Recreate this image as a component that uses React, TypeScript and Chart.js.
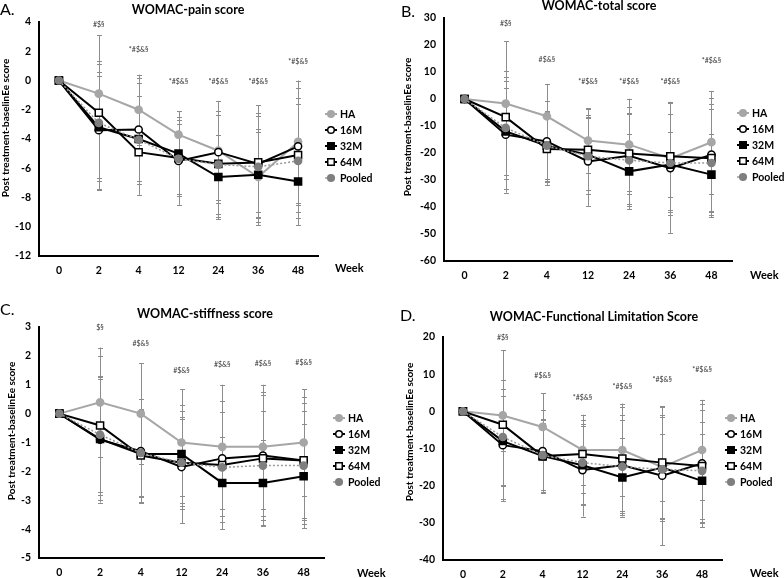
import React, { useEffect, useRef } from "react";
import { Chart, registerables } from "chart.js";
Chart.register(...registerables);

const FONT = "Lato, 'Open Sans', sans-serif";

const weeks = ["0", "2", "4", "12", "24", "36", "48"];
const seriesNames = ["HA", "16M", "32M", "64M", "Pooled"];

// A. WOMAC-pain score
const painHA = [0, -0.9, -2.0, -3.7, -4.8, -6.6, -4.2];
const pain16M = [0, -3.4, -3.35, -5.5, -4.9, -5.7, -4.5];
const pain32M = [0, -3.2, -4.0, -5.0, -6.6, -6.45, -6.9];
const pain64M = [0, -2.2, -4.9, -5.3, -5.7, -5.6, -5.1];
const painPooled = [0, -2.9, -4.05, -5.35, -5.75, -5.9, -5.5];
const painHA_sd = [0, 2.2, 2.4, 1.6, 3.4, 3.3, 4.2];
const pain16M_sd = [0, 4.0, 3.5, 3.0, 3.5, 4.0, 4.0];
const pain32M_sd = [0, 3.5, 3.8, 2.9, 2.9, 2.9, 3.0];
const pain64M_sd = [0, 5.3, 2.9, 2.6, 3.6, 3.4, 3.9];
const painPooled_sd = [0, 4.0, 3.0, 2.4, 3.4, 3.5, 3.9];
const painMarks = ["", "#$§", "*#$&§", "*#$&§", "*#$&§", "*#$&§", "*#$&§"];
const painMarkY = [0, 3.8, 2.1, -0.1, -0.1, -0.1, 1.25];

// B. WOMAC-total score
const totalHA = [0, -1.7, -6.4, -15.4, -16.9, -22.0, -16.0];
const total16M = [0, -13.2, -15.7, -23.1, -21.0, -25.6, -20.6];
const total32M = [0, -12.0, -17.3, -20.6, -26.8, -24.3, -28.0];
const total64M = [0, -6.7, -18.5, -18.8, -20.2, -21.2, -21.9];
const totalPooled = [0, -10.7, -17.3, -21.2, -22.7, -23.7, -23.7];
const totalHA_sd = [0, 12, 12, 12, 17, 21, 19];
const total16M_sd = [0, 20, 15, 16.5, 18, 24, 21];
const total32M_sd = [0, 16, 12.5, 14.5, 14, 12, 15];
const total64M_sd = [0, 28, 13.5, 15, 15, 20, 20];
const totalPooled_sd = [0, 19, 13, 14, 17, 18, 20];
const totalMarks = ["", "#$§", "#$&§", "*#$&§", "*#$&§", "*#$&§", "*#$&§"];
const totalMarkY = [0, 28, 14.6, 6.5, 6.5, 6.5, 14.3];

// C. WOMAC-stiffness score
const stiffHA = [0, 0.39, 0, -1.0, -1.15, -1.15, -1.0];
const stiff16M = [0, -0.9, -1.3, -1.85, -1.55, -1.45, -1.62];
const stiff32M = [0, -0.88, -1.4, -1.4, -2.4, -2.4, -2.17];
const stiff64M = [0, -0.41, -1.45, -1.7, -1.78, -1.55, -1.62];
const stiffPooled = [0, -0.73, -1.36, -1.7, -1.86, -1.8, -1.8];
const stiffHA_sd = [0, 1.9, 1.75, 1.85, 2.15, 2.15, 1.85];
const stiff16M_sd = [0, 2.1, 1.8, 1.95, 2.0, 2.1, 2.0];
const stiff32M_sd = [0, 2.2, 1.5, 1.7, 1.6, 1.5, 1.8];
const stiff64M_sd = [0, 2.4, 1.6, 1.5, 2.2, 2.3, 2.2];
const stiffPooled_sd = [0, 2.0, 1.5, 1.6, 1.9, 1.9, 1.9];
const stiffMarks = ["", "$§", "#$&§", "#$&§", "#$&§", "#$&§", "#$&§"];
const stiffMarkY = [0, 2.98, 2.41, 1.48, 1.69, 1.72, 1.76];

// D. WOMAC-Functional Limitation Score
const funcHA = [0, -1.1, -4.2, -10.4, -10.4, -15.0, -10.4];
const func16M = [0, -9.1, -10.7, -15.8, -14.5, -17.3, -14.0];
const func32M = [0, -8.0, -12.05, -14.5, -17.8, -15.1, -18.7];
const func64M = [0, -3.6, -12.05, -11.5, -12.7, -13.8, -14.7];
const funcPooled = [0, -6.9, -11.8, -13.8, -14.9, -15.6, -16.0];
const funcHA_sd = [0, 9.5, 9, 9.5, 12.5, 14, 13.5];
const func16M_sd = [0, 15, 11, 12.5, 13.5, 18.7, 16];
const func32M_sd = [0, 12, 10, 10.5, 10.5, 9, 12.5];
const func64M_sd = [0, 20, 9, 10.5, 14, 15, 15];
const funcPooled_sd = [0, 13, 9.5, 11.5, 12.5, 14, 13];
const funcMarks = ["", "#$§", "#$&§", "*#$&§", "*#$&§", "*#$&§", "*#$&§"];
const funcMarkY = [0, 19.9, 9.5, 3.7, 6.5, 8.5, 11.2];

const yTitle = "Post treatment-baselinEe score";

const W = 392;
const H = 289;

const panels = [
  {
    letter: "A.", title: "WOMAC-pain score", pos: [0, 0],
    area: { l: 39, t: 22, r: 318, b: 256 }, yMin: -12, yMax: 4, step: 2,
    series: [painHA, pain16M, pain32M, pain64M, painPooled],
    sd: [painHA_sd, pain16M_sd, pain32M_sd, pain64M_sd, painPooled_sd],
    marks: painMarks, markY: painMarkY,
    letterAt: [0, 10], titleAt: [188, 10], yTitleAt: [6, 128], legendAt: [325, 114], weekAt: [335, 268],
  },
  {
    letter: "B.", title: "WOMAC-total score", pos: [392, 0],
    area: { l: 52, t: 18, r: 340, b: 261 }, yMin: -60, yMax: 30, step: 10,
    series: [totalHA, total16M, total32M, total64M, totalPooled],
    sd: [totalHA_sd, total16M_sd, total32M_sd, total64M_sd, totalPooled_sd],
    marks: totalMarks, markY: totalMarkY,
    letterAt: [9, 12], titleAt: [207, 6], yTitleAt: [16, 127], legendAt: [345, 113], weekAt: [358, 275],
  },
  {
    letter: "C.", title: "WOMAC-stiffness score", pos: [0, 289],
    area: { l: 39, t: 38, r: 324, b: 269 }, yMin: -5, yMax: 3, step: 1,
    series: [stiffHA, stiff16M, stiff32M, stiff64M, stiffPooled],
    sd: [stiffHA_sd, stiff16M_sd, stiff32M_sd, stiff64M_sd, stiffPooled_sd],
    marks: stiffMarks, markY: stiffMarkY,
    letterAt: [0, 21], titleAt: [205, 25], yTitleAt: [12, 142], legendAt: [333, 129], weekAt: [357, 284],
  },
  {
    letter: "D.", title: "WOMAC-Functional Limitation Score", pos: [392, 289],
    area: { l: 51, t: 48, r: 330, b: 271 }, yMin: -40, yMax: 20, step: 10,
    series: [funcHA, func16M, func32M, func64M, funcPooled],
    sd: [funcHA_sd, func16M_sd, func32M_sd, func64M_sd, funcPooled_sd],
    marks: funcMarks, markY: funcMarkY,
    letterAt: [8, 27], titleAt: [202, 28], yTitleAt: [18, 143], legendAt: [333, 129], weekAt: [358, 284],
  },
];

const styles = [
  { line: "#a6a6a6", width: 2, dash: [], shape: "circle", r: 3.6, fill: "#a6a6a6", stroke: "#a6a6a6", order: 5 },
  { line: "#000000", width: 2, dash: [], shape: "circle", r: 3.6, fill: "#ffffff", stroke: "#000000", order: 4 },
  { line: "#000000", width: 2, dash: [], shape: "rect", r: 5, fill: "#000000", stroke: "#000000", order: 3 },
  { line: "#000000", width: 2, dash: [], shape: "rect", r: 5, fill: "#ffffff", stroke: "#000000", order: 2 },
  { line: "#9a9a9a", width: 1.5, dash: [2, 2], shape: "circle", r: 3.6, fill: "#7f7f7f", stroke: "#7f7f7f", order: 1 },
];

function drawMarker(ctx: CanvasRenderingContext2D, st: any, x: number, y: number) {
  ctx.save();
  ctx.fillStyle = st.fill;
  ctx.strokeStyle = st.stroke;
  ctx.lineWidth = 1.5;
  ctx.setLineDash([]);
  ctx.beginPath();
  if (st.shape === "circle") {
    ctx.arc(x, y, st.r, 0, Math.PI * 2);
  } else {
    const s = st.r * Math.SQRT1_2;
    ctx.rect(x - s, y - s, 2 * s, 2 * s);
  }
  ctx.fill();
  ctx.stroke();
  ctx.restore();
}

function makeDecor(p: any) {
  return {
    id: "decor",
    beforeDatasetsDraw(chart: any) {
      const ctx = chart.ctx;
      const xs = chart.scales.x;
      const ys = chart.scales.y;
      ctx.save();
      ctx.strokeStyle = "#8c8c8c";
      ctx.lineWidth = 1;
      p.series.forEach((vals: number[], si: number) => {
        const sd = p.sd[si];
        vals.forEach((v: number, i: number) => {
          if (!sd[i]) return;
          const px = Math.round(xs.getPixelForValue(i)) + 0.5;
          const top = ys.getPixelForValue(v + sd[i]);
          const bot = ys.getPixelForValue(v - sd[i]);
          ctx.beginPath();
          ctx.moveTo(px, top);
          ctx.lineTo(px, bot);
          ctx.moveTo(px - 2.5, Math.round(top) + 0.5);
          ctx.lineTo(px + 2.5, Math.round(top) + 0.5);
          ctx.moveTo(px - 2.5, Math.round(bot) + 0.5);
          ctx.lineTo(px + 2.5, Math.round(bot) + 0.5);
          ctx.stroke();
        });
      });
      ctx.restore();
    },
    afterDraw(chart: any) {
      const ctx = chart.ctx;
      const xs = chart.scales.x;
      const ys = chart.scales.y;
      ctx.save();
      // significance marks
      ctx.fillStyle = "#333";
      ctx.font = `7px ${FONT}`;
      ctx.textAlign = "center";
      ctx.textBaseline = "middle";
      p.marks.forEach((m: string, i: number) => {
        if (!m) return;
        ctx.fillText(m, xs.getPixelForValue(i), ys.getPixelForValue(p.markY[i]));
      });
      // panel letter
      ctx.fillStyle = "#000";
      ctx.textAlign = "left";
      ctx.font = `16px ${FONT}`;
      ctx.fillText(p.letter, p.letterAt[0], p.letterAt[1]);
      // title
      ctx.textAlign = "center";
      ctx.font = `bold 12.5px ${FONT}`;
      ctx.fillText(p.title, p.titleAt[0], p.titleAt[1]);
      // y title
      ctx.save();
      ctx.translate(p.yTitleAt[0], p.yTitleAt[1]);
      ctx.rotate(-Math.PI / 2);
      ctx.font = `bold 10px ${FONT}`;
      ctx.fillText(yTitle, 0, 0);
      ctx.restore();
      // Week
      ctx.textAlign = "left";
      ctx.font = `bold 11px ${FONT}`;
      ctx.fillText("Week", p.weekAt[0], p.weekAt[1]);
      // legend
      ctx.font = `bold 10.5px ${FONT}`;
      seriesNames.forEach((name, i) => {
        const st = styles[i];
        const lx = p.legendAt[0];
        const ly = p.legendAt[1] + i * 16;
        ctx.save();
        ctx.strokeStyle = st.line;
        ctx.lineWidth = st.width;
        ctx.setLineDash(st.dash);
        ctx.beginPath();
        ctx.moveTo(lx, ly);
        ctx.lineTo(lx + 12, ly);
        ctx.stroke();
        ctx.restore();
        drawMarker(ctx, { ...st, r: st.shape === "rect" ? 4.6 : 3.3 }, lx + 6, ly);
        ctx.fillStyle = "#000";
        ctx.fillText(name, lx + 15, ly + 0.5);
      });
      ctx.restore();
    },
  };
}

function Panel({ p }: { p: any }) {
  const ref = useRef<HTMLCanvasElement | null>(null);
  useEffect(() => {
    const canvas = ref.current;
    if (!canvas) return;
    const tickFont = { family: FONT, size: 10.5, weight: "bold" as const };
    const chart = new Chart(canvas, {
      type: "line",
      data: {
        labels: weeks,
        datasets: p.series.map((vals: number[], i: number) => {
          const st = styles[i];
          return {
            label: seriesNames[i],
            data: vals,
            borderColor: st.line,
            borderWidth: st.width,
            borderDash: st.dash,
            tension: 0,
            fill: false,
            pointStyle: st.shape,
            pointRadius: st.r,
            pointBackgroundColor: st.fill,
            pointBorderColor: st.stroke,
            pointBorderWidth: 1.5,
            order: st.order,
          };
        }),
      },
      options: {
        responsive: false,
        animation: false,
        events: [],
        layout: { padding: { left: 0, top: p.area.t, right: W - p.area.r, bottom: 0 } },
        plugins: { legend: { display: false }, title: { display: false }, tooltip: { enabled: false } },
        scales: {
          x: {
            type: "category",
            offset: true,
            grid: { display: false, drawTicks: false },
            border: { display: true, color: "#000", width: 2 },
            ticks: { font: tickFont, color: "#000", padding: 8, autoSkip: false, maxRotation: 0 },
            afterFit: (s: any) => { s.height = H - p.area.b; },
          },
          y: {
            min: p.yMin,
            max: p.yMax,
            grid: { display: false, drawTicks: false },
            border: { display: true, color: "#000", width: 2 },
            ticks: { stepSize: p.step, font: tickFont, color: "#000", padding: 8 },
            afterFit: (s: any) => { s.width = p.area.l; },
          },
        },
      },
      plugins: [makeDecor(p)],
    });
    return () => chart.destroy();
  }, [p]);
  return (
    <canvas
      ref={ref}
      width={W}
      height={H}
      style={{ position: "absolute", left: p.pos[0], top: p.pos[1], width: W, height: H }}
    />
  );
}

export default function App() {
  return (
    <div style={{ position: "absolute", left: 0, top: 0, width: 784, height: 578, background: "#fff" }}>
      {panels.map((p, i) => (
        <Panel key={i} p={p} />
      ))}
    </div>
  );
}
